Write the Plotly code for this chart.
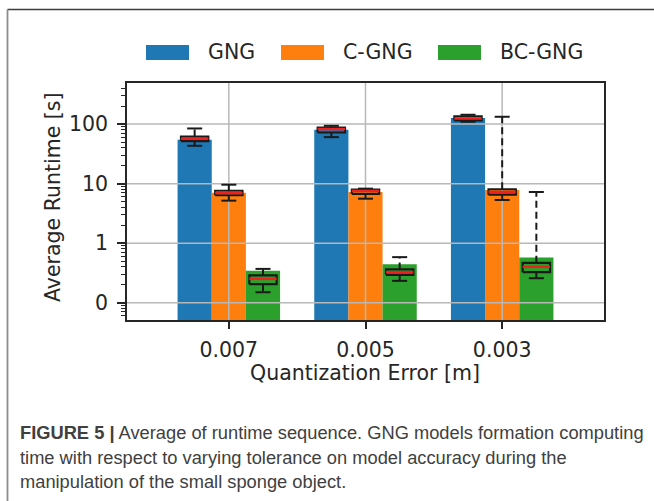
import plotly.graph_objects as go

# ---------------- data ----------------
categories = ["0.007", "0.005", "0.003"]
series = ["GNG", "C-GNG", "BC-GNG"]
colors = ["#1f77b4", "#ff7f0e", "#2ca02c"]

bar_gng = [54.5, 80.2, 126.0]
bar_cgng = [7.05, 7.24, 7.84]
bar_bcgng = [0.343, 0.443, 0.577]

# box statistics: lower whisker, q1, median, q3, upper whisker
gng_lo = [43.2, 60.4, 109.4]
gng_q1 = [51.8, 72.3, 115.0]
gng_med = [56.6, 82.4, 124.2]
gng_q3 = [61.8, 87.7, 134.4]
gng_hi = [84.4, 93.6, 143.5]

cgng_lo = [5.18, 5.59, 5.32]
cgng_q1 = [6.38, 6.71, 6.53]
cgng_med = [6.97, 7.54, 7.24]
cgng_q3 = [7.60, 7.93, 8.05]
cgng_hi = [9.60, 8.24, 132.7]

bcgng_lo = [0.150, 0.233, 0.258]
bcgng_q1 = [0.205, 0.294, 0.326]
bcgng_med = [0.252, 0.326, 0.401]
bcgng_q3 = [0.287, 0.362, 0.468]
bcgng_hi = [0.370, 0.583, 7.24]

ytick_vals = [0.1, 1, 10, 100]
ytick_text = ["0", "1", "10", "100"]

caption_lines = [
    "<b>FIGURE 5 |</b> Average of runtime sequence. GNG models formation computing",
    "time with respect to varying tolerance on model accuracy during the",
    "manipulation of the small sponge object.",
]

# ---------------- layout constants ----------------
W, H = 654, 501
L, R, T, B = 127, 50, 83, 181
PW, PH = W - L - R, H - T - B
XRANGE = [-0.745, 2.745]
YRANGE = [-1.29, 2.69]
BAR_W = 0.25
OFFSETS = [-0.25, 0.0, 0.25]
BOX_HALF = 0.1
CAP_HALF = 0.055
TXT = "#262626"
FONT = "DejaVu Sans"
FS = 20.5


def fx(px):
    return (px - L) / PW


def fy(py):
    return (H - B - py) / PH


bars = [bar_gng, bar_cgng, bar_bcgng]
stats = [
    (gng_lo, gng_q1, gng_med, gng_q3, gng_hi),
    (cgng_lo, cgng_q1, cgng_med, cgng_q3, cgng_hi),
    (bcgng_lo, bcgng_q1, bcgng_med, bcgng_q3, bcgng_hi),
]

fig = go.Figure()

# bars
for k, name in enumerate(series):
    fig.add_trace(go.Bar(
        x=[i + OFFSETS[k] for i in range(len(categories))],
        y=bars[k], width=BAR_W, name=name,
        marker=dict(color=colors[k], line=dict(width=0)),
        showlegend=False,
    ))

# grid lines (between bars and boxes)
gx, gy = [], []
for v in ytick_vals:
    gx += [-10, 10, None]
    gy += [v, v, None]
for i in range(len(categories)):
    gx += [i, i, None]
    gy += [1e-4, 1e5, None]
fig.add_trace(go.Scatter(x=gx, y=gy, mode="lines", line=dict(color="#b8b8b8", width=1.5),
                         hoverinfo="skip", showlegend=False))

# box plots
for k in range(len(series)):
    lo, q1, med, q3, hi = stats[k]
    wx, wy, bx, by, cx, cy, mx, my = [], [], [], [], [], [], [], []
    for i in range(len(categories)):
        c = i + OFFSETS[k]
        wx += [c, c, None, c, c, None]
        wy += [q3[i], hi[i], None, q1[i], lo[i], None]
        bx += [c - BOX_HALF, c + BOX_HALF, c + BOX_HALF, c - BOX_HALF, c - BOX_HALF, None]
        by += [q1[i], q1[i], q3[i], q3[i], q1[i], None]
        cx += [c - CAP_HALF, c + CAP_HALF, None, c - CAP_HALF, c + CAP_HALF, None]
        cy += [hi[i], hi[i], None, lo[i], lo[i], None]
        mx += [c - BOX_HALF, c + BOX_HALF, None]
        my += [med[i], med[i], None]
    fig.add_trace(go.Scatter(x=wx, y=wy, mode="lines",
                             line=dict(color="#1a1a1a", width=2, dash="7px,4px"),
                             hoverinfo="skip", showlegend=False))
    fig.add_trace(go.Scatter(x=bx, y=by, mode="lines",
                             line=dict(color="#1a1a1a", width=2.2),
                             hoverinfo="skip", showlegend=False))
    fig.add_trace(go.Scatter(x=cx, y=cy, mode="lines",
                             line=dict(color="#1a1a1a", width=2),
                             hoverinfo="skip", showlegend=False))
    fig.add_trace(go.Scatter(x=mx, y=my, mode="lines",
                             line=dict(color="#ee2020", width=2.5),
                             hoverinfo="skip", showlegend=False))

minor_vals = [m * 10 ** e for e in range(-2, 3) for m in range(2, 10)]

fig.update_layout(
    width=W, height=H,
    margin=dict(l=L, r=R, t=T, b=B),
    paper_bgcolor="white", plot_bgcolor="white",
    barmode="overlay",
    showlegend=False,
    font=dict(family=FONT, size=FS, color=TXT),
    xaxis=dict(
        range=XRANGE, tickmode="array", tickvals=list(range(len(categories))),
        ticktext=categories, ticks="outside", ticklen=7, tickwidth=1.5, tickcolor=TXT,
        showgrid=False, zeroline=False, showline=True, linecolor=TXT, linewidth=1.6,
        mirror=True, layer="above traces", ticklabelstandoff=4,
        tickfont=dict(family=FONT, size=FS, color=TXT),
    ),
    yaxis=dict(
        type="log", range=YRANGE, tickmode="array", tickvals=ytick_vals,
        ticktext=ytick_text, ticks="outside", ticklen=8, tickwidth=1.5, tickcolor=TXT,
        showgrid=False, zeroline=False, showline=True, linecolor=TXT, linewidth=1.6,
        mirror=True, layer="above traces", ticklabelstandoff=5,
        tickfont=dict(family=FONT, size=FS, color=TXT),
        minor=dict(tickvals=minor_vals, ticks="outside", ticklen=4, tickwidth=1,
                   tickcolor=TXT, showgrid=False),
    ),
)

annotations = []
shapes = []

# axis titles
annotations.append(dict(text="Average Runtime [s]", x=fx(53), y=fy(197), xref="paper", yref="paper",
                        textangle=-90, showarrow=False, xanchor="center", yanchor="middle",
                        font=dict(family=FONT, size=FS, color=TXT)))
annotations.append(dict(text="Quantization Error [m]", x=fx(365), y=fy(373), xref="paper", yref="paper",
                        showarrow=False, xanchor="center", yanchor="middle",
                        font=dict(family=FONT, size=FS, color=TXT)))

# legend (manual)
leg_rect_x = [146, 281, 438]
for k, name in enumerate(series):
    x0 = leg_rect_x[k]
    shapes.append(dict(type="rect", xref="paper", yref="paper",
                       x0=fx(x0), x1=fx(x0 + 43), y0=fy(60), y1=fy(45),
                       fillcolor=colors[k], line=dict(width=0), layer="above"))
    annotations.append(dict(text=name, x=fx(x0 + 60), y=fy(52.5), xref="paper", yref="paper",
                            showarrow=False, xanchor="left", yanchor="middle",
                            font=dict(family=FONT, size=FS, color=TXT)))

# figure frame
shapes.append(dict(type="line", xref="paper", yref="paper", x0=fx(7.5), x1=fx(654), y0=fy(9.5), y1=fy(9.5),
                   line=dict(color="#3c3c3c", width=1.6), layer="above"))
shapes.append(dict(type="line", xref="paper", yref="paper", x0=fx(7.5), x1=fx(7.5), y0=fy(9.5), y1=fy(501),
                   line=dict(color="#8c8c8c", width=1.8), layer="above"))

# caption
cap_y = [432, 457, 481]
for line, yy in zip(caption_lines, cap_y):
    annotations.append(dict(text=line, x=fx(18), y=fy(yy), xref="paper", yref="paper",
                            showarrow=False, xanchor="left", yanchor="middle",
                            font=dict(family="Liberation Sans", size=18.3, color="#404040")))

fig.update_layout(annotations=annotations, shapes=shapes)

fig.write_html("out.html")
